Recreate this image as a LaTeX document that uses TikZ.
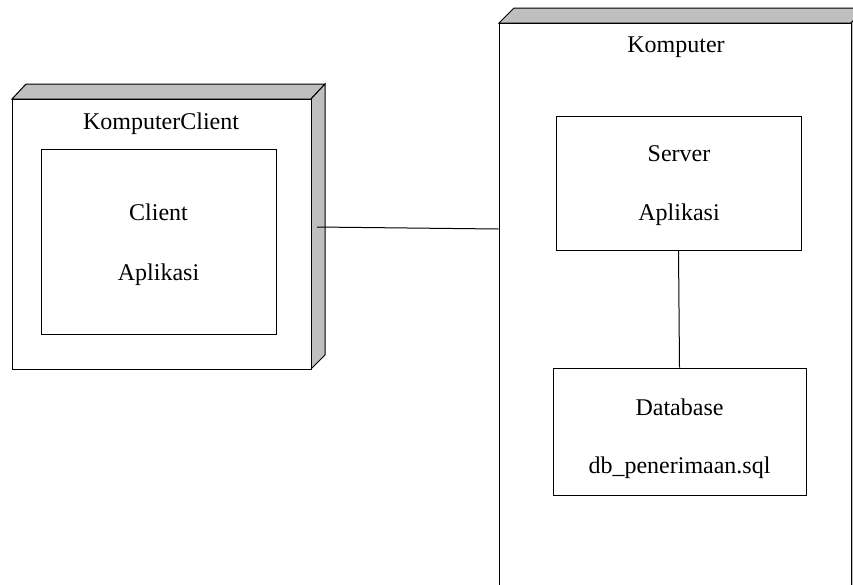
\documentclass[tikz,border=0pt]{standalone}
\usepackage{fontspec}
\setmainfont{Liberation Serif}
\begin{document}
\begin{tikzpicture}[x=1pt,y=-1pt,
  edge/.style={line width=1pt, draw=black},
  face/.style={line width=1pt, draw=black, fill=white},
  shade/.style={line width=1pt, draw=black, fill=gray!50},
  lbl/.style={anchor=base, inner sep=0pt, font=\fontsize{24}{28}\selectfont},
  artifact/.style={line width=1pt, draw=black, fill=white, inner sep=0pt}
]
\useasboundingbox (0,0) rectangle (853,584);
\clip (0,0) rectangle (853,584);

% ---- KomputerClient node (3D box)
\draw[shade] (12,99) -- (26,84) -- (325,84) -- (311,99) -- cycle;
\draw[shade] (311,99) -- (325,84) -- (325,355) -- (311,369) -- cycle;
\node[artifact, minimum width=299pt, minimum height=270pt] (kc) at (161.5,234) {};
\node[lbl] (kct) at (161,129.5) {KomputerClient};
\node[artifact, minimum width=235pt, minimum height=185pt] (client) at (158.5,241.5) {};
\node[lbl] (ct1) at (158.5,220) {Client};
\node[lbl] (ct2) at (158.5,280) {Aplikasi};

% ---- Komputer node (3D box, cut off)
\draw[shade] (499,23) -- (514,8) -- (866,8) -- (851,23) -- cycle;
\draw[shade] (851,23) -- (866,8) -- (866,620) -- (851,635) -- cycle;
\node[artifact, minimum width=352pt, minimum height=612pt] (kp) at (675,329) {};
\node[lbl] (kpt) at (676,52.7) {Komputer};
\node[artifact, minimum width=245pt, minimum height=134pt] (server) at (678.5,183) {};
\node[lbl] (st1) at (679,161.7) {Server};
\node[lbl] (st2) at (679,220.7) {Aplikasi};
\node[artifact, minimum width=253pt, minimum height=127pt] (db) at (679.5,431.5) {};
\node[lbl] (dt1) at (679.5,415) {Database};
\node[lbl] (dt2) at (679.5,473) {db\_penerimaan.sql};

% ---- connectors
\coordinate (cl) at (317,227);
\coordinate (cr) at (kp.west |- 0,229);
\draw[edge] (cl) -- (cr);
\draw[edge] (server.south) -- (db.north);
\end{tikzpicture}
\end{document}
